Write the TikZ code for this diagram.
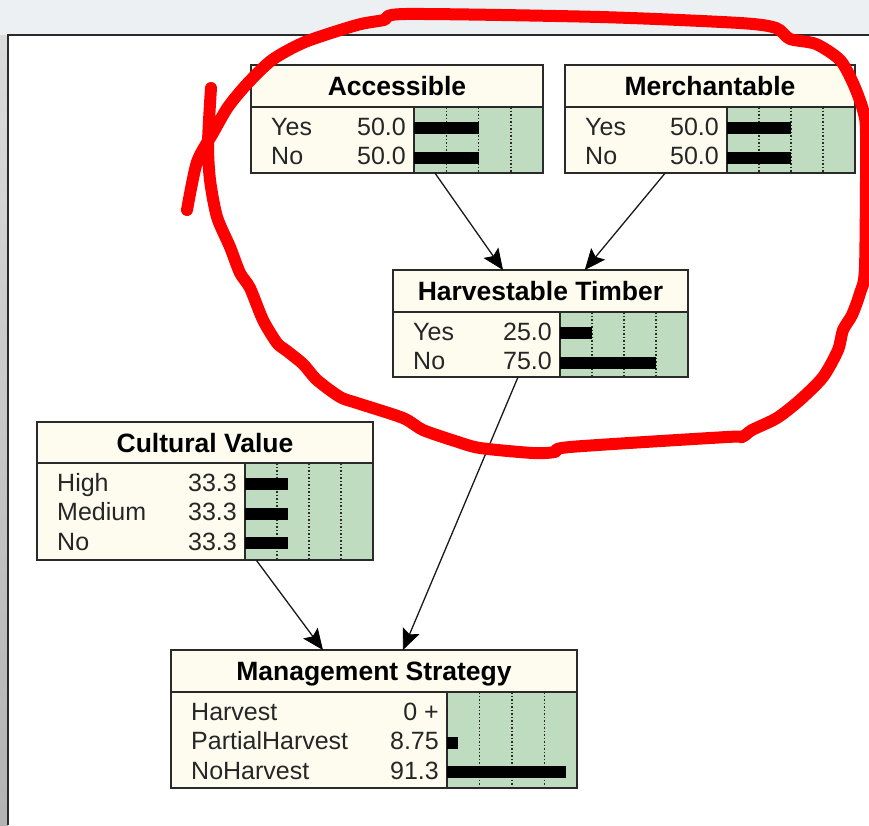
\documentclass[tikz,border=0pt]{standalone}
\usepackage{fontspec}
\setmainfont{Liberation Sans}
\usetikzlibrary{arrows.meta}

\definecolor{cream}{HTML}{FEFBEF}
\definecolor{beliefgreen}{HTML}{C0DCC0}
\definecolor{framegray}{HTML}{2A2A2A}
\definecolor{topstrip}{HTML}{EDF0F3}

\tikzset{
  netbox/.style={draw=none, fill=cream, rectangle, inner sep=0pt, outer sep=0pt, anchor=north west},
  frame/.style={draw=framegray, line width=1.8pt},
  gridline/.style={draw=framegray, line width=1.5pt, dash pattern=on 1.5pt off 2pt},
  titletext/.style={font=\bfseries\fontsize{26.5}{26.5}\selectfont, inner sep=0pt, text height=19pt, text depth=0pt},
  rowtext/.style={font=\fontsize{25}{25}\selectfont, inner sep=0pt, text height=18pt, text depth=0pt, text=black!85},
  link/.style={draw=black!90, line width=1.3pt,
    -{Stealth[length=21pt,width=18pt,inset=4pt,line width=0.8pt,fill=black,color=black]}},
  scribble/.style={draw=red, line width=12pt, line cap=round, line join=round},
}

% #1 name, #2 left, #3 top, #4 width, #5 height, #6 title height, #7 split, #8 title
\newcommand\netnode[8]{%
  \def\nname{#1}\def\splitx{#7}\def\titleh{#6}%
  \pgfmathsetmacro\barw{#4-#7}%
  \node[netbox, minimum width=#4pt, minimum height=#5pt] (#1) at (#2,#3) {};
  \fill[beliefgreen] ([xshift=#7pt, yshift=-#6pt]#1.north west) rectangle (#1.south east);
  \foreach \f in {0.25,0.5,0.75}{
    \draw[gridline] ([xshift={(#7+\f*\barw)*1pt}, yshift=-#6pt]#1.north west)
      -- ([xshift={(#7+\f*\barw)*1pt}]#1.south west);
  }
  \draw[frame] ([xshift=#7pt, yshift=-#6pt]#1.north west) -- ([xshift=#7pt]#1.south west);
  \draw[frame] ([yshift=-#6pt]#1.north west) -- ([yshift=-#6pt]#1.north east);
  \node[titletext] at ([yshift={-#6pt/2}]#1.north) {#8};
  \draw[frame] (#1.north west) rectangle (#1.south east);
}

% #1 row index, #2 state, #3 value, #4 belief in percent
\newcommand\netrow[4]{%
  \pgfmathsetmacro\rowy{\titleh+19+(#1-1)*29.5}%
  \pgfmathsetmacro\barlen{#4/100*\barw}%
  \node[rowtext, anchor=west] at ([xshift=20pt, yshift=-\rowy pt]\nname.north west) {#2};
  \node[rowtext, anchor=east] at ([xshift={(\splitx-8)*1pt}, yshift=-\rowy pt]\nname.north west) {#3};
  \fill[black] ([xshift=\splitx pt, yshift={-(\rowy-4)*1pt}]\nname.north west)
    rectangle ([xshift={(\splitx+\barlen)*1pt}, yshift={-(\rowy+8)*1pt}]\nname.north west);
}

\begin{document}
\begin{tikzpicture}[x=1pt, y=-1pt]
\useasboundingbox (0,0) rectangle (869,825);

% window background
\fill[topstrip] (0,0) rectangle (869,35);
\shade[top color=black!14, bottom color=black!30] (0,35) rectangle (8,825);
\fill[white] (8,35) rectangle (869,825);
\draw[framegray, line width=2pt] (8,825) -- (8,35) -- (869,35);

% belief nodes
\netnode{acc}{251}{65}{292}{108}{42}{163}{Accessible}
\netrow{1}{Yes}{50.0}{50}
\netrow{2}{No}{50.0}{50}

\netnode{mer}{565}{65}{290}{108}{42}{162}{Merchantable}
\netrow{1}{Yes}{50.0}{50}
\netrow{2}{No}{50.0}{50}

\netnode{ht}{393}{270}{295}{107}{42}{167}{Harvestable Timber}
\netrow{1}{Yes}{25.0}{25}
\netrow{2}{No}{75.0}{75}

\netnode{cv}{37}{422}{336}{138}{41}{208}{Cultural Value}
\netrow{1}{High}{33.3}{33.3}
\netrow{2}{Medium}{33.3}{33.3}
\netrow{3}{No}{33.3}{33.3}

\netnode{ms}{171}{650}{406}{138}{42}{276}{Management Strategy}
\netrow{1}{Harvest}{0 +}{0}
\netrow{2}{PartialHarvest}{8.75}{8.75}
\netrow{3}{NoHarvest}{91.3}{91.3}

% links
\draw[link] (acc) -- (ht);
\draw[link] (mer) -- (ht);
\draw[link] (ht) -- (ms);
\draw[link] (cv) -- (ms);

% hand-drawn red loop
\draw[scribble] plot[smooth, tension=0.45] coordinates {
  (187,210) (197,162) (213,133) (228,107) (247,84) (272,60) (305,42)
  (357,25) (384,20) (406,14) (600,17) (740,23) (776,28) (790,39)
  (816,44) (840,60) (853,83) (863,110) (866,135) (865,267) (860,293)
  (852,315) (843,330) (838,350) (823,377) (800,400) (777,418) (752,430)
  (742,437) (727,437) (570,447) (555,452) (533,453) (480,448) (455,441)
  (423,430) (403,418) (357,403) (340,397) (317,380) (303,364) (287,351)
  (277,343) (263,320) (250,288) (240,273) (230,247) (217,217) (210,180)
  (208,143) (211,88)};
\end{tikzpicture}
\end{document}
